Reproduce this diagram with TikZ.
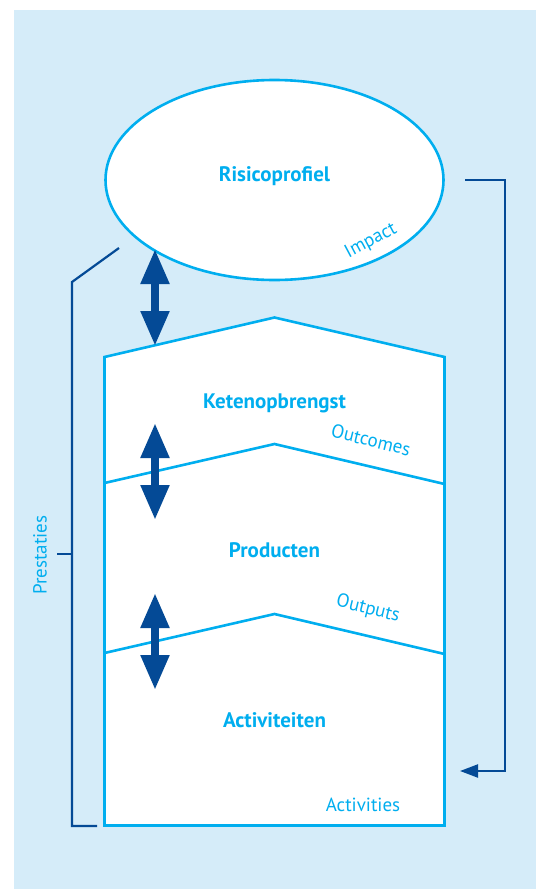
\documentclass[tikz,border=0pt]{standalone}
\usepackage{fontspec}
\setmainfont{PT Sans}
\usetikzlibrary{arrows.meta,shapes.geometric}
\definecolor{bg}{HTML}{D5ECF9}
\definecolor{cyanl}{HTML}{00AEEF}
\definecolor{dblue}{HTML}{044A96}
\tikzset{
  cline/.style={draw=cyanl, line width=2.6pt},
  bline/.style={draw=dblue, line width=2.2pt},
  title/.style={text=cyanl, font=\fontsize{21}{23}\selectfont\bfseries, inner sep=0pt},
  sub/.style={text=cyanl, font=\fontsize{19}{21}\selectfont, inner sep=0pt},
  bigarrow/.style={draw=dblue, line width=8pt,
    {Triangle[width=27pt,length=35pt]}-{Triangle[width=27pt,length=35pt]}},
}
\begin{document}
\begin{tikzpicture}[x=1pt,y=-1pt]
\useasboundingbox (0,0) rectangle (536,889);
\fill[bg] (14,10) rectangle (536,889);
% house
\coordinate (hTL) at (104.5,357);
\coordinate (hTP) at (274.5,317.5);
\coordinate (hTR) at (444.5,357);
\coordinate (hBR) at (444.5,825.5);
\coordinate (hBL) at (104.5,825.5);
\path[cline, fill=white] (hTL) -- (hTP) -- (hTR) -- (hBR) -- (hBL) -- cycle;
\coordinate (m1L) at (104.5,483);
\coordinate (m1P) at (274.5,444);
\coordinate (m1R) at (444.5,484);
\coordinate (m2L) at (104.5,653);
\coordinate (m2P) at (274.5,614);
\coordinate (m2R) at (444.5,654);
\path[cline] (m1L) -- (m1P) -- (m1R);
\path[cline] (m2L) -- (m2P) -- (m2R);
% ellipse
\node[ellipse, cline, fill=white, minimum width=338pt, minimum height=200pt, inner sep=0pt] (risk) at (274.5,180) {};
\node[title] (tRisk) at (274.5,176) {Risicoprofiel};
\node[sub, rotate=28] (tImpact) at (371,241) {Impact};
\node[title] (tKeten) at (274.5,403) {Ketenopbrengst};
\node[sub, rotate=-14] (tOutc) at (371,440) {Outcomes};
\node[title] (tProd) at (274.5,550) {Producten};
\node[sub, rotate=-14] (tOutp) at (368,609) {Outputs};
\node[title] (tAct) at (274.5,720) {Activiteiten};
\node[sub] (tActs) at (363,805) {Activities};
% big arrows
\coordinate (a1t) at (155,249);
\coordinate (a1b) at (155,346);
\coordinate (a2t) at (155,423);
\coordinate (a2b) at (155,520);
\coordinate (a3t) at (155,593);
\coordinate (a3b) at (155,690);
\draw[bigarrow] (a1t) -- (a1b);
\draw[bigarrow] (a2t) -- (a2b);
\draw[bigarrow] (a3t) -- (a3b);
% right feedback connector
\coordinate (r0) at (465,180);
\coordinate (r1) at (505,180);
\coordinate (r2) at (505,771);
\coordinate (r3) at (460,771);
\draw[bline, -{Triangle[width=13pt,length=18pt]}] (r0) -- (r1) -- (r2) -- (r3);
% left bracket
\coordinate (l0) at (119,248);
\coordinate (l1) at (72,282);
\coordinate (l2) at (72,826);
\coordinate (l3) at (97,826);
\draw[bline] (l0) -- (l1) -- (l2) -- (l3);
\coordinate (t0) at (57,554);
\coordinate (t1) at (72,554);
\draw[bline] (t0) -- (t1);
\node[sub, rotate=90] (tPrest) at (40,555) {Prestaties};
\end{tikzpicture}
\end{document}
